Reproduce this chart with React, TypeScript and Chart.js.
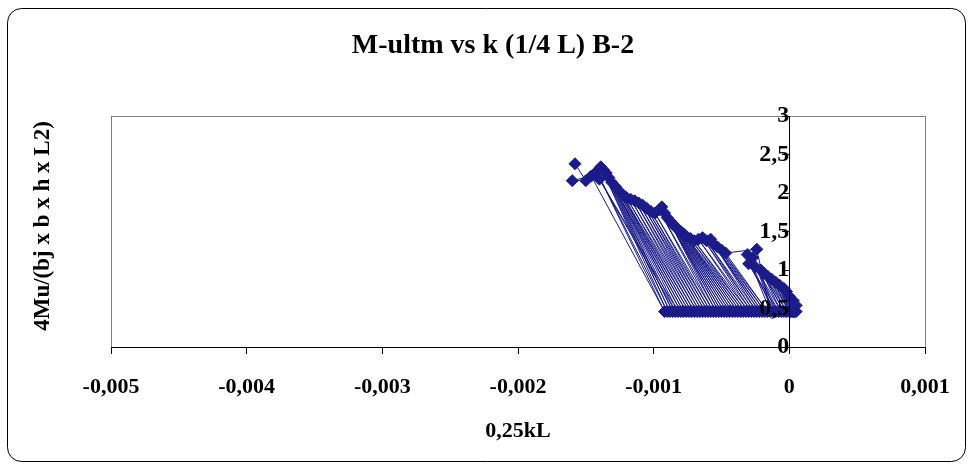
import React, { useEffect, useRef } from 'react';
import { Chart, registerables } from 'chart.js';

Chart.register(...registerables);

// ---- data ----
const kValues = [
  -0.00158, -0.0015, -0.0016,
  -0.00146, -0.00092, -0.00142, -0.0009, -0.00139, -0.00088, -0.00137, -0.00086,
  -0.00135, -0.00084, -0.0014, -0.00082, -0.00133, -0.0008, -0.00131, -0.00078,
  -0.00128, -0.00076, -0.00125, -0.00074, -0.00123, -0.00072, -0.0012, -0.0007,
  -0.00117, -0.00068, -0.00114, -0.00066, -0.00111, -0.00064, -0.00108, -0.00062,
  -0.00105, -0.0006, -0.00102, -0.00058, -0.00099, -0.00056, -0.00096, -0.00054,
  -0.00094, -0.00052, -0.00092, -0.0005, -0.0009, -0.00048, -0.00088, -0.00046,
  -0.00086, -0.00044, -0.00084, -0.00042, -0.00082, -0.0004, -0.0008, -0.00038,
  -0.00078, -0.00036, -0.00076, -0.00034, -0.00073, -0.00032, -0.0007, -0.0003,
  -0.00067, -0.00028, -0.00064, -0.00026, -0.00061, -0.00024, -0.00058, -0.00022,
  -0.00056, -0.0002, -0.00053, -0.00018, -0.0005, -0.00016,
  -0.00047, -0.00024, -0.00014, -0.00031, -0.00012, -0.00027, -0.0001, -0.0003, -0.00008,
  -0.00025, -0.00006, -0.00021, -0.00004, -0.00019, -0.00002, -0.00016, 0.0,
  -0.00013, 0.00001, -0.0001, 0.00002, -0.00007, 0.00003, -0.00004, 0.00004,
  -0.00002, 0.00005, 0.0, 0.00003, 0.00005, 0.00003,
];
const mValues = [
  2.38, 2.16, 2.16,
  2.22, 0.46, 2.28, 0.46, 2.34, 0.46, 2.3, 0.46,
  2.26, 0.46, 2.18, 0.46, 2.2, 0.46, 2.14, 0.46,
  2.08, 0.46, 2.02, 0.46, 1.98, 0.46, 1.94, 0.46,
  1.92, 0.46, 1.9, 0.46, 1.87, 0.46, 1.84, 0.46,
  1.8, 0.46, 1.76, 0.46, 1.74, 0.46, 1.78, 0.46,
  1.82, 0.46, 1.74, 0.46, 1.68, 0.46, 1.64, 0.46,
  1.6, 0.46, 1.56, 0.46, 1.53, 0.46, 1.5, 0.46,
  1.47, 0.46, 1.44, 0.46, 1.41, 0.46, 1.38, 0.46,
  1.4, 0.46, 1.42, 0.46, 1.38, 0.46, 1.4, 0.46,
  1.34, 0.46, 1.3, 0.46, 1.26, 0.46,
  1.22, 1.27, 0.46, 1.2, 0.46, 1.16, 0.46, 1.08, 0.46,
  1.04, 0.46, 1.0, 0.46, 0.96, 0.46, 0.92, 0.46,
  0.88, 0.46, 0.84, 0.46, 0.8, 0.46, 0.76, 0.46,
  0.72, 0.46, 0.66, 0.6, 0.54, 0.46,
];

const xTickValues = [-0.005, -0.004, -0.003, -0.002, -0.001, 0, 0.001];
const xTickLabels = ['-0,005', '-0,004', '-0,003', '-0,002', '-0,001', '0', '0,001'];
const yTickValues = [0, 0.5, 1, 1.5, 2, 2.5, 3];
const yTickLabels = ['0', '0,5', '1', '1,5', '2', '2,5', '3'];

const chartTitle = 'M-ultm vs k (1/4 L) B-2';
const xAxisTitle = '0,25kL';
const yAxisTitle = '4Mu/(bj x b x h x L2)';

const FONT = "'Liberation Serif', 'Times New Roman', serif";
const NAVY = '#1b1b8a';

const framePlugin = {
  id: 'frame',
  beforeDraw(chart: any) {
    const { ctx, chartArea } = chart;
    ctx.save();
    ctx.fillStyle = '#ffffff';
    ctx.fillRect(0, 0, chart.width, chart.height);
    // outer rounded frame
    ctx.strokeStyle = '#000000';
    ctx.lineWidth = 1;
    ctx.beginPath();
    (ctx as any).roundRect(7.5, 8.5, 958, 453, 14);
    ctx.stroke();
    // plot area border
    ctx.strokeStyle = '#808080';
    ctx.strokeRect(
      Math.round(chartArea.left) + 0.5,
      Math.round(chartArea.top) + 0.5,
      Math.round(chartArea.right - chartArea.left),
      Math.round(chartArea.bottom - chartArea.top)
    );
    // titles
    ctx.fillStyle = '#000000';
    ctx.textAlign = 'center';
    ctx.textBaseline = 'middle';
    ctx.font = `bold 28px ${FONT}`;
    ctx.fillText(chartTitle, 493, 46);
    ctx.font = `bold 22px ${FONT}`;
    ctx.fillText(xAxisTitle, (chartArea.left + chartArea.right) / 2, 431);
    ctx.translate(43, 226);
    ctx.rotate(-Math.PI / 2);
    ctx.font = `bold 23px ${FONT}`;
    ctx.fillText(yAxisTitle, 0, 0);
    ctx.restore();
  },
};

export default function App() {
  const canvasRef = useRef<HTMLCanvasElement | null>(null);

  useEffect(() => {
    const canvas = canvasRef.current;
    if (!canvas) return;
    const points = kValues.map((k, i) => ({ x: k, y: mValues[i] }));
    const chart = new Chart(canvas, {
      type: 'scatter',
      data: {
        datasets: [
          {
            data: points,
            showLine: true,
            borderColor: NAVY,
            backgroundColor: NAVY,
            borderWidth: 1,
            pointStyle: 'rectRot',
            pointRadius: 6,
            pointBorderWidth: 1,
            pointBorderColor: NAVY,
            pointBackgroundColor: NAVY,
          },
        ],
      },
      options: {
        responsive: false,
        animation: false,
        layout: { padding: { left: 111, right: 46, top: 116, bottom: 117 } },
        plugins: {
          legend: { display: false },
          tooltip: { enabled: false },
          title: { display: false },
        },
        scales: {
          x: {
            type: 'linear',
            min: -0.005,
            max: 0.001,
            position: { y: 0 } as any,
            afterBuildTicks: (scale: any) => {
              scale.ticks = xTickValues.map((v) => ({ value: v }));
            },
            ticks: {
              color: '#000000',
              font: { family: FONT, size: 22, weight: 'bold' },
              padding: 21,
              maxRotation: 0,
              autoSkip: false,
              z: 1,
              callback: (_v: any, i: number) => xTickLabels[i],
            },
            grid: { drawOnChartArea: false, drawTicks: true, tickLength: 6, color: '#000000' },
            border: { display: true, color: '#000000', width: 1 },
          },
          y: {
            type: 'linear',
            min: 0,
            max: 3,
            position: { x: 0 } as any,
            afterBuildTicks: (scale: any) => {
              scale.ticks = yTickValues.map((v) => ({ value: v }));
            },
            ticks: {
              color: '#000000',
              font: { family: FONT, size: 24, weight: 'bold' },
              padding: 10,
              autoSkip: false,
              z: 1,
              callback: (_v: any, i: number) => yTickLabels[i],
            },
            grid: { drawOnChartArea: false, drawTicks: true, tickLength: 7, color: '#000000', z: 1 },
            border: { display: true, color: '#000000', width: 1, z: 1 },
          },
        },
      },
      plugins: [framePlugin],
    });
    return () => chart.destroy();
  }, []);

  return (
    <div style={{ position: 'absolute', left: 0, top: 0, width: 971, height: 464, background: '#fff' }}>
      <canvas ref={canvasRef} width={971} height={464} style={{ display: 'block' }} />
    </div>
  );
}
